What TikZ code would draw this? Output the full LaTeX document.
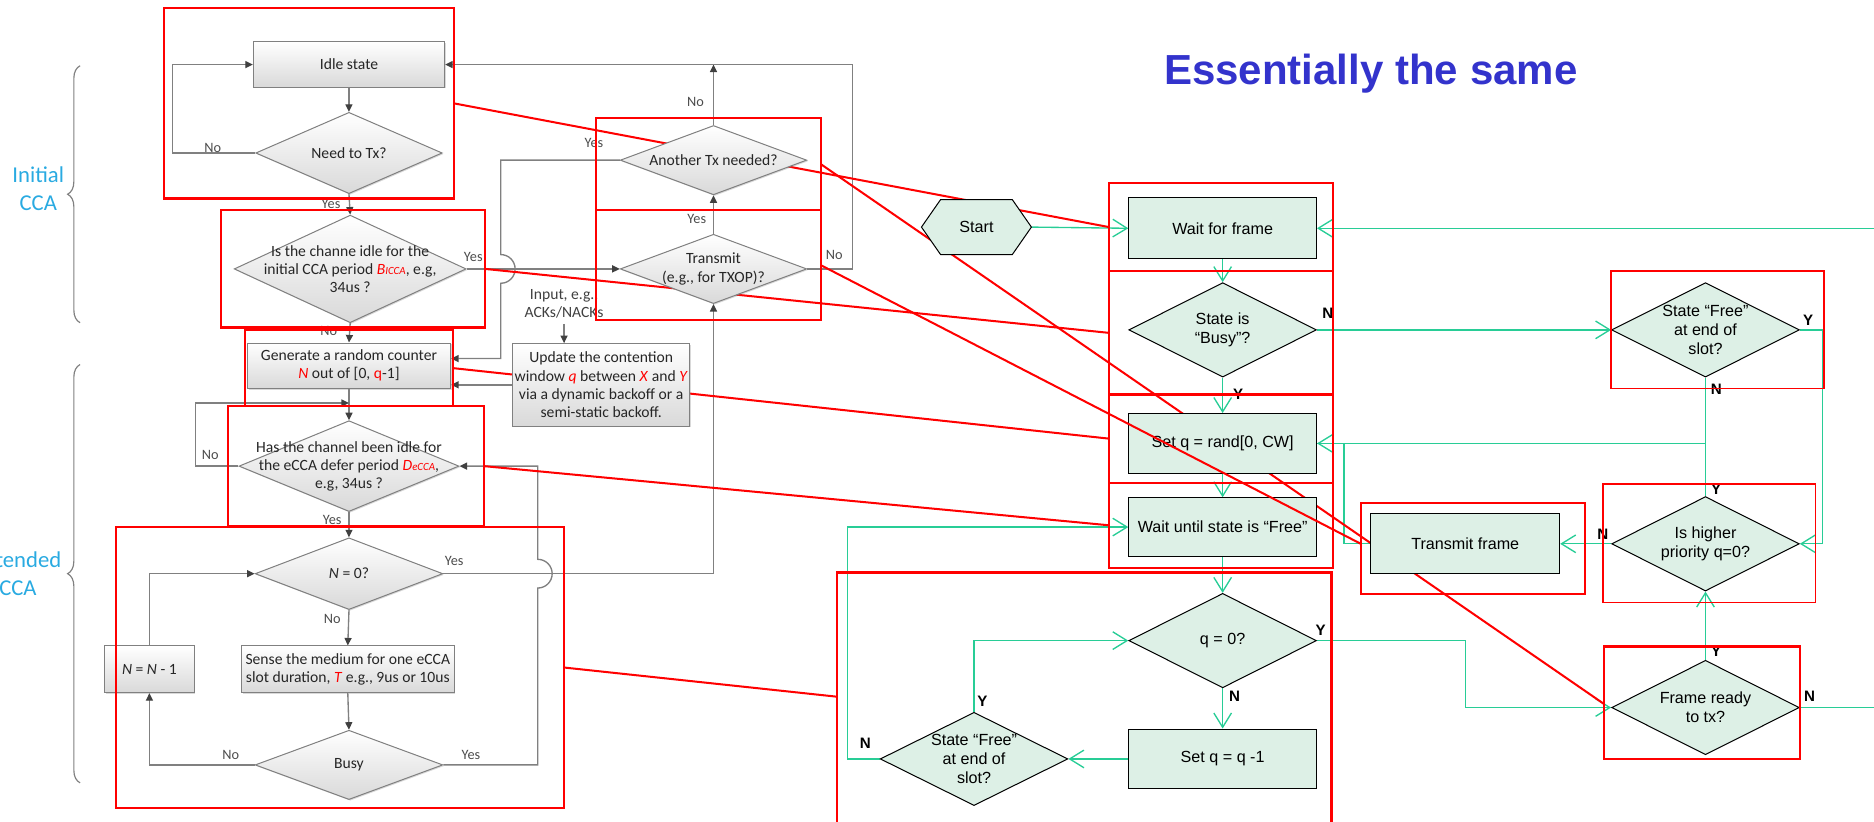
\documentclass[tikz,border=0pt]{standalone}
\usepackage{fontspec}
\setmainfont{Liberation Sans}
\newfontfamily\calfont{Carlito}
\usetikzlibrary{arrows.meta,shapes.geometric,decorations.pathreplacing,calc,shadows}
\pgfdeclarelayer{bg}
\pgfdeclarelayer{mid}
\pgfsetlayers{bg,mid,main}
\definecolor{gline}{RGB}{40,205,150}
\definecolor{gfill}{RGB}{221,240,230}
\definecolor{lblue}{RGB}{41,170,225}
\definecolor{tblue}{RGB}{51,51,204}
\definecolor{lgrey}{RGB}{128,128,128}
\definecolor{dgrey}{RGB}{64,64,64}
\tikzset{
  lnode/.style={draw=lgrey, line width=0.6pt, top color=white, bottom color=black!15,
    drop shadow={opacity=0.3, shadow xshift=0.7pt, shadow yshift=-0.7pt}, inner sep=1pt},
  ltext/.style={font=\calfont\fontsize{9.3}{10.8}\selectfont, text=black!85, align=center},
  lrect/.style={lnode, rectangle, ltext},
  ldia/.style={lnode, diamond, inner sep=0pt},
  lab/.style={font=\calfont\fontsize{8.5}{9}\selectfont, text=black!70, inner sep=1pt},
  garr/.style={draw=lgrey, line width=0.8pt, -{Triangle[length=4.5pt,width=4.2pt,color=dgrey]}},
  gnode/.style={draw=black, line width=0.6pt, fill=gfill},
  gtext/.style={font=\fontsize{9.6}{11.3}\selectfont, align=center},
  grect/.style={gnode, rectangle, gtext, minimum width=3.925cm, minimum height=1.25cm, inner sep=1pt},
  gdia/.style={gnode, diamond, inner sep=0pt, minimum width=3.925cm, minimum height=1.975cm},
  gc/.style={draw=gline, line width=0.8pt},
  ga/.style={gc, -{Straight Barb[length=8.5pt,width=10.5pt]}},
  yn/.style={font=\bfseries\fontsize{9}{10}\selectfont, inner sep=1pt},
  rline/.style={draw=red, line width=1.2pt},
  rbox/.style={draw=red, line width=1.3pt, inner sep=0pt, outer sep=0pt, anchor=north west},
  sidelab/.style={font=\calfont\fontsize{13.5}{17}\selectfont, text=lblue, align=center},
}
\begin{document}
\begin{tikzpicture}[x=0.025cm,y=-0.025cm]
\useasboundingbox (0,0) rectangle (1568,687);
\clip (0,0) rectangle (1568,687);

% ---------- side braces and labels
\draw[lgrey, line width=0.7pt, decorate, decoration={brace,amplitude=0.26cm,aspect=0.5}] (67,270) -- (67,55);
\draw[lgrey, line width=0.7pt, decorate, decoration={brace,amplitude=0.26cm,aspect=0.5}] (67,655) -- (67,305);
\node[sidelab] (initlab) at (32,158) {Initial\\CCA};
\node[sidelab] (extlab) at (15,480) {Extended\\CCA};

% ---------- title
\node[font=\bfseries\fontsize{25}{30}\selectfont, text=tblue] (title) at (1147,62) {Essentially the same};

% ---------- left flowchart nodes
\node[lrect, minimum width=4cm, minimum height=0.95cm] (idle) at (292,54) {Idle state};
\node[ldia, minimum width=3.9cm, minimum height=1.7cm, label={[ltext]center:{Need to Tx?}}] (needtx) at (292,128) {};
\node[ldia, minimum width=4.85cm, minimum height=2.25cm, label={[ltext]center:{Is the channe idle for the\\initial CCA period {\color{red}\textit{B}{\fontsize{6.5}{7}\selectfont\textit{ICCA}}}, e.g,\\34us ?}}] (chan) at (293,225) {};
\node[lrect, minimum width=4.25cm, minimum height=0.95cm] (gen) at (292,306) {Generate a random counter\\{\color{red}\textit{N}} out of [0, {\color{red}q}-1]};
\node[ldia, minimum width=4.6cm, minimum height=1.9cm, label={[ltext]center:{Has the channel been idle for\\the eCCA defer period {\color{red}\textit{D}{\fontsize{6.5}{7}\selectfont\textit{eCCA}}},\\e.g, 34us ?}}] (ecca) at (292,390) {};
\node[ldia, minimum width=3.925cm, minimum height=1.5cm, label={[ltext]center:{\textit{N} = 0?}}] (nzero) at (292,480) {};
\node[lrect, minimum width=4.45cm, minimum height=0.975cm] (sense) at (291,560) {Sense the medium for one eCCA\\slot duration, {\color{red}\textit{T}} e.g., 9us or 10us};
\node[lrect, minimum width=1.875cm, minimum height=0.975cm] (nn1) at (125,560) {\textit{N} = \textit{N} - 1};
\node[ldia, minimum width=3.925cm, minimum height=1.45cm, label={[ltext]center:{Busy}}] (busy) at (292,640) {};
\node[ldia, minimum width=3.9cm, minimum height=1.45cm, label={[ltext]center:{Another Tx needed?}}] (another) at (597,134) {};
\node[ldia, minimum width=3.9cm, minimum height=1.45cm, label={[ltext]center:{Transmit\\(e.g., for TXOP)?}}] (transmit) at (597,225) {};
\node[lrect, minimum width=3.65cm, minimum height=1.725cm] (update) at (503,322) {Update the contention\\window {\color{red}\textit{q}} between {\color{red}\textit{X}} and {\color{red}\textit{Y}}\\via a dynamic backoff or a\\semi-static backoff.};
\node[ltext, text=black!75] (input) at (472,254) {Input, e.g.,\\ACKs/NACKs};

% ---------- left connectors
\begin{pgfonlayer}{bg}
\draw[garr] (idle.south) -- (needtx.north);
\draw[garr] (needtx.west) -- ++(-69,0) |- (idle.west);
\draw[garr] (needtx.south) -- (chan.north);
\draw[garr] (chan.south) -- (gen.north);
\draw[garr] (chan.east) -- (transmit.west);
\draw[garr] (gen.south) -- (ecca.north);
\coordinate (j1) at ($(gen.south)!0.45!(ecca.north)$);
\draw[garr] (ecca.west) -- ++(-36,0) |- (j1);
\draw[garr] (ecca.south) -- (nzero.north);
\draw[garr] (nzero.south) -- (sense.north);
\draw[garr] (sense.south) -- (busy.north);
\draw[garr] (busy.west) -| (nn1.south);
\draw[garr] (nn1.north) |- (nzero.west);
\draw[garr] (busy.east) -| (450,492) arc[start angle=-90,end angle=90,radius=0.3cm] |- (ecca.east);
\draw[garr] (nzero.east) -| (transmit.south);
\draw[garr] (transmit.north) -- (another.south);
\coordinate (topj) at (597,54);
\draw[garr] (another.north) -- (topj);
\draw[garr] (transmit.east) -- ++(38,0) |- (idle.east);
\draw[garr] (another.west) -| (419,213) arc[start angle=90,end angle=-90,radius=0.3cm] |- ($(gen.east)+(0,-6)$);
\draw[garr] (input.south) -- (input.south |- update.north);
\draw[garr] (update.west) -- (update.west -| gen.east);
\end{pgfonlayer}

% ---------- left Yes/No labels
\node[lab] (t1) at (178,124) {No};
\node[lab] (t2) at (277,171) {Yes};
\node[lab] (t3) at (396,215) {Yes};
\node[lab] (t4) at (275,277) {No};
\node[lab] (t5) at (176,381) {No};
\node[lab] (t6) at (278,435) {Yes};
\node[lab] (t7) at (380,469) {Yes};
\node[lab] (t8) at (278,518) {No};
\node[lab] (t9) at (193,632) {No};
\node[lab] (t10) at (394,632) {Yes};
\node[lab] (t11) at (497,120) {Yes};
\node[lab] (t12) at (582,85) {No};
\node[lab] (t13) at (583,183) {Yes};
\node[lab] (t14) at (698,213) {No};

% ---------- right flowchart nodes
\coordinate (sc) at (817,190);
\path[gnode] ($(sc)+(-46,0)$) -- ($(sc)+(-30,-23)$) -- ($(sc)+(30,-23)$) -- ($(sc)+(46,0)$) -- ($(sc)+(30,23)$) -- ($(sc)+(-30,23)$) -- cycle;
\node[gtext, minimum width=2.3cm, minimum height=1.15cm, inner sep=0pt] (start) at (sc) {Start};
\node[grect, minimum height=1.275cm] (wait) at (1023,191) {Wait for frame};
\node[gdia, label={[gtext]center:{State is\\“Busy”?}}] (busyq) at (1023,276) {};
\node[grect] (setq) at (1023,371) {Set q = rand[0, CW]};
\node[grect, minimum height=1.225cm] (waitfree) at (1023,441) {Wait until state is “Free”};
\node[gdia, label={[gtext]center:{q = 0?}}] (qzero) at (1023,536) {};
\node[grect] (setq1) at (1023,635) {Set q = q -1};
\node[gdia, minimum height=1.95cm, label={[gtext]center:{State “Free”\\at end of\\slot?}}] (freeL) at (815,635) {};
\node[gdia, label={[gtext]center:{State “Free”\\at end of\\slot?}}] (freeR) at (1427,276) {};
\node[gdia, label={[gtext]center:{Is higher\\priority q=0?}}] (higher) at (1427,455) {};
\node[grect, minimum width=3.95cm] (txframe) at (1226,455) {Transmit frame};
\node[gdia, label={[gtext]center:{Frame ready\\to tx?}}] (ready) at (1427,592) {};

% ---------- right connectors
\begin{pgfonlayer}{bg}
\coordinate (rw) at (1568,191);
\coordinate (rr) at (1568,592);
\draw[ga] (start.east) -- (wait.west);
\draw[ga] (rw) -- (wait.east);
\draw[ga] (wait.south) -- (busyq.north);
\draw[ga] (busyq.south) -- (setq.north);
\draw[ga] (busyq.east) -- (freeR.west);
\draw[ga] (setq.south) -- (waitfree.north);
\draw[ga] (waitfree.south) -- (qzero.north);
\draw[ga] (qzero.south) -- (setq1.north);
\draw[ga] (setq1.west) -- (freeL.east);
\draw[ga] (freeL.north) |- (qzero.west);
\draw[ga] (freeL.west) -- ++(-27,0) |- (waitfree.west);
\draw[ga] (qzero.east) -- ++(124,0) |- (ready.west);
\draw[ga] (ready.north) -- (higher.south);
\draw[gc] (ready.east) -- (rr);
\draw[ga] (higher.west) -- (txframe.east);
\draw[ga] (freeR.east) -- ++(19,0) |- (higher.east);
\coordinate (j2) at (freeR.south |- setq.east);
\draw[gc] (freeR.south) -- (higher.north);
\draw[ga] (j2) -- (setq.east);
\draw[gc] (txframe.west) -- ++(-22,0) |- (setq.east);
\end{pgfonlayer}

% ---------- right Y/N labels
\node[yn] (y1) at (1111,262) {N};
\node[yn] (y2) at (1036,330) {Y};
\node[yn] (y3) at (1105,527) {Y};
\node[yn] (y4) at (1033,583) {N};
\node[yn] (y5) at (822,587) {Y};
\node[yn] (y6) at (724,622) {N};
\node[yn] (y7) at (1513,268) {Y};
\node[yn] (y8) at (1436,326) {N};
\node[yn] (y9) at (1436,409) {Y};
\node[yn] (y10) at (1341,447) {N};
\node[yn] (y11) at (1436,545) {Y};
\node[yn] (y12) at (1514,583) {N};

% ---------- red frames
\node[rbox, minimum width=6.075cm, minimum height=3.975cm] (rA) at (137,7) {};
\node[rbox, minimum width=5.525cm, minimum height=2.45cm] (rB) at (185,176) {};
\node[rbox, minimum width=4.35cm, minimum height=1.6cm] (rC) at (205,276) {};
\node[rbox, minimum width=5.35cm, minimum height=2.5cm] (rD) at (191,340) {};
\node[rbox, minimum width=9.375cm, minimum height=5.875cm] (rE) at (97,441) {};
\node[rbox, minimum width=4.7cm, minimum height=1.925cm] (rF) at (499,99) {};
\node[rbox, minimum width=4.7cm, minimum height=2.3cm] (rG) at (499,176) {};
\node[rbox, minimum width=4.675cm, minimum height=1.85cm] (rH) at (928,153) {};
\node[rbox, minimum width=4.675cm, minimum height=2.575cm] (rI) at (928,227) {};
\node[rbox, minimum width=4.675cm, minimum height=1.85cm] (rJ) at (928,330) {};
\node[rbox, minimum width=4.675cm, minimum height=1.775cm] (rK) at (928,404) {};
\node[rbox, line width=1pt, minimum width=4.45cm, minimum height=2.45cm] (rL) at (1348,227) {};
\node[rbox, minimum width=4.675cm, minimum height=1.9cm] (rM) at (1139,421) {};
\node[rbox, line width=1pt, minimum width=4.45cm, minimum height=2.475cm] (rN) at (1341,405) {};
\node[rbox, minimum width=4.1cm, minimum height=2.35cm] (rO) at (1342,541) {};
\node[rbox, minimum width=10.35cm, minimum height=5.525cm] (rP) at (700,479) {};

% ---------- red links
\begin{pgfonlayer}{mid}
\draw[rline] (rA.east) -- (rH.west);
\draw[rline] (rF.east) -- ($(rO.north west)!0.51!(rO.south west)$);
\draw[rline] (rB.east) -- (rI.west);
\draw[rline] (rC.east) -- (rJ.west);
\draw[rline] (rD.east) -- (rK.west);
\draw[rline] (rE.east) -- ($(rP.north west)!0.47!(rP.south west)$);
\end{pgfonlayer}
\draw[rline] (rG.east) -- ($(rM.north west)!0.45!(rM.south west)$);
\end{tikzpicture}
\end{document}
